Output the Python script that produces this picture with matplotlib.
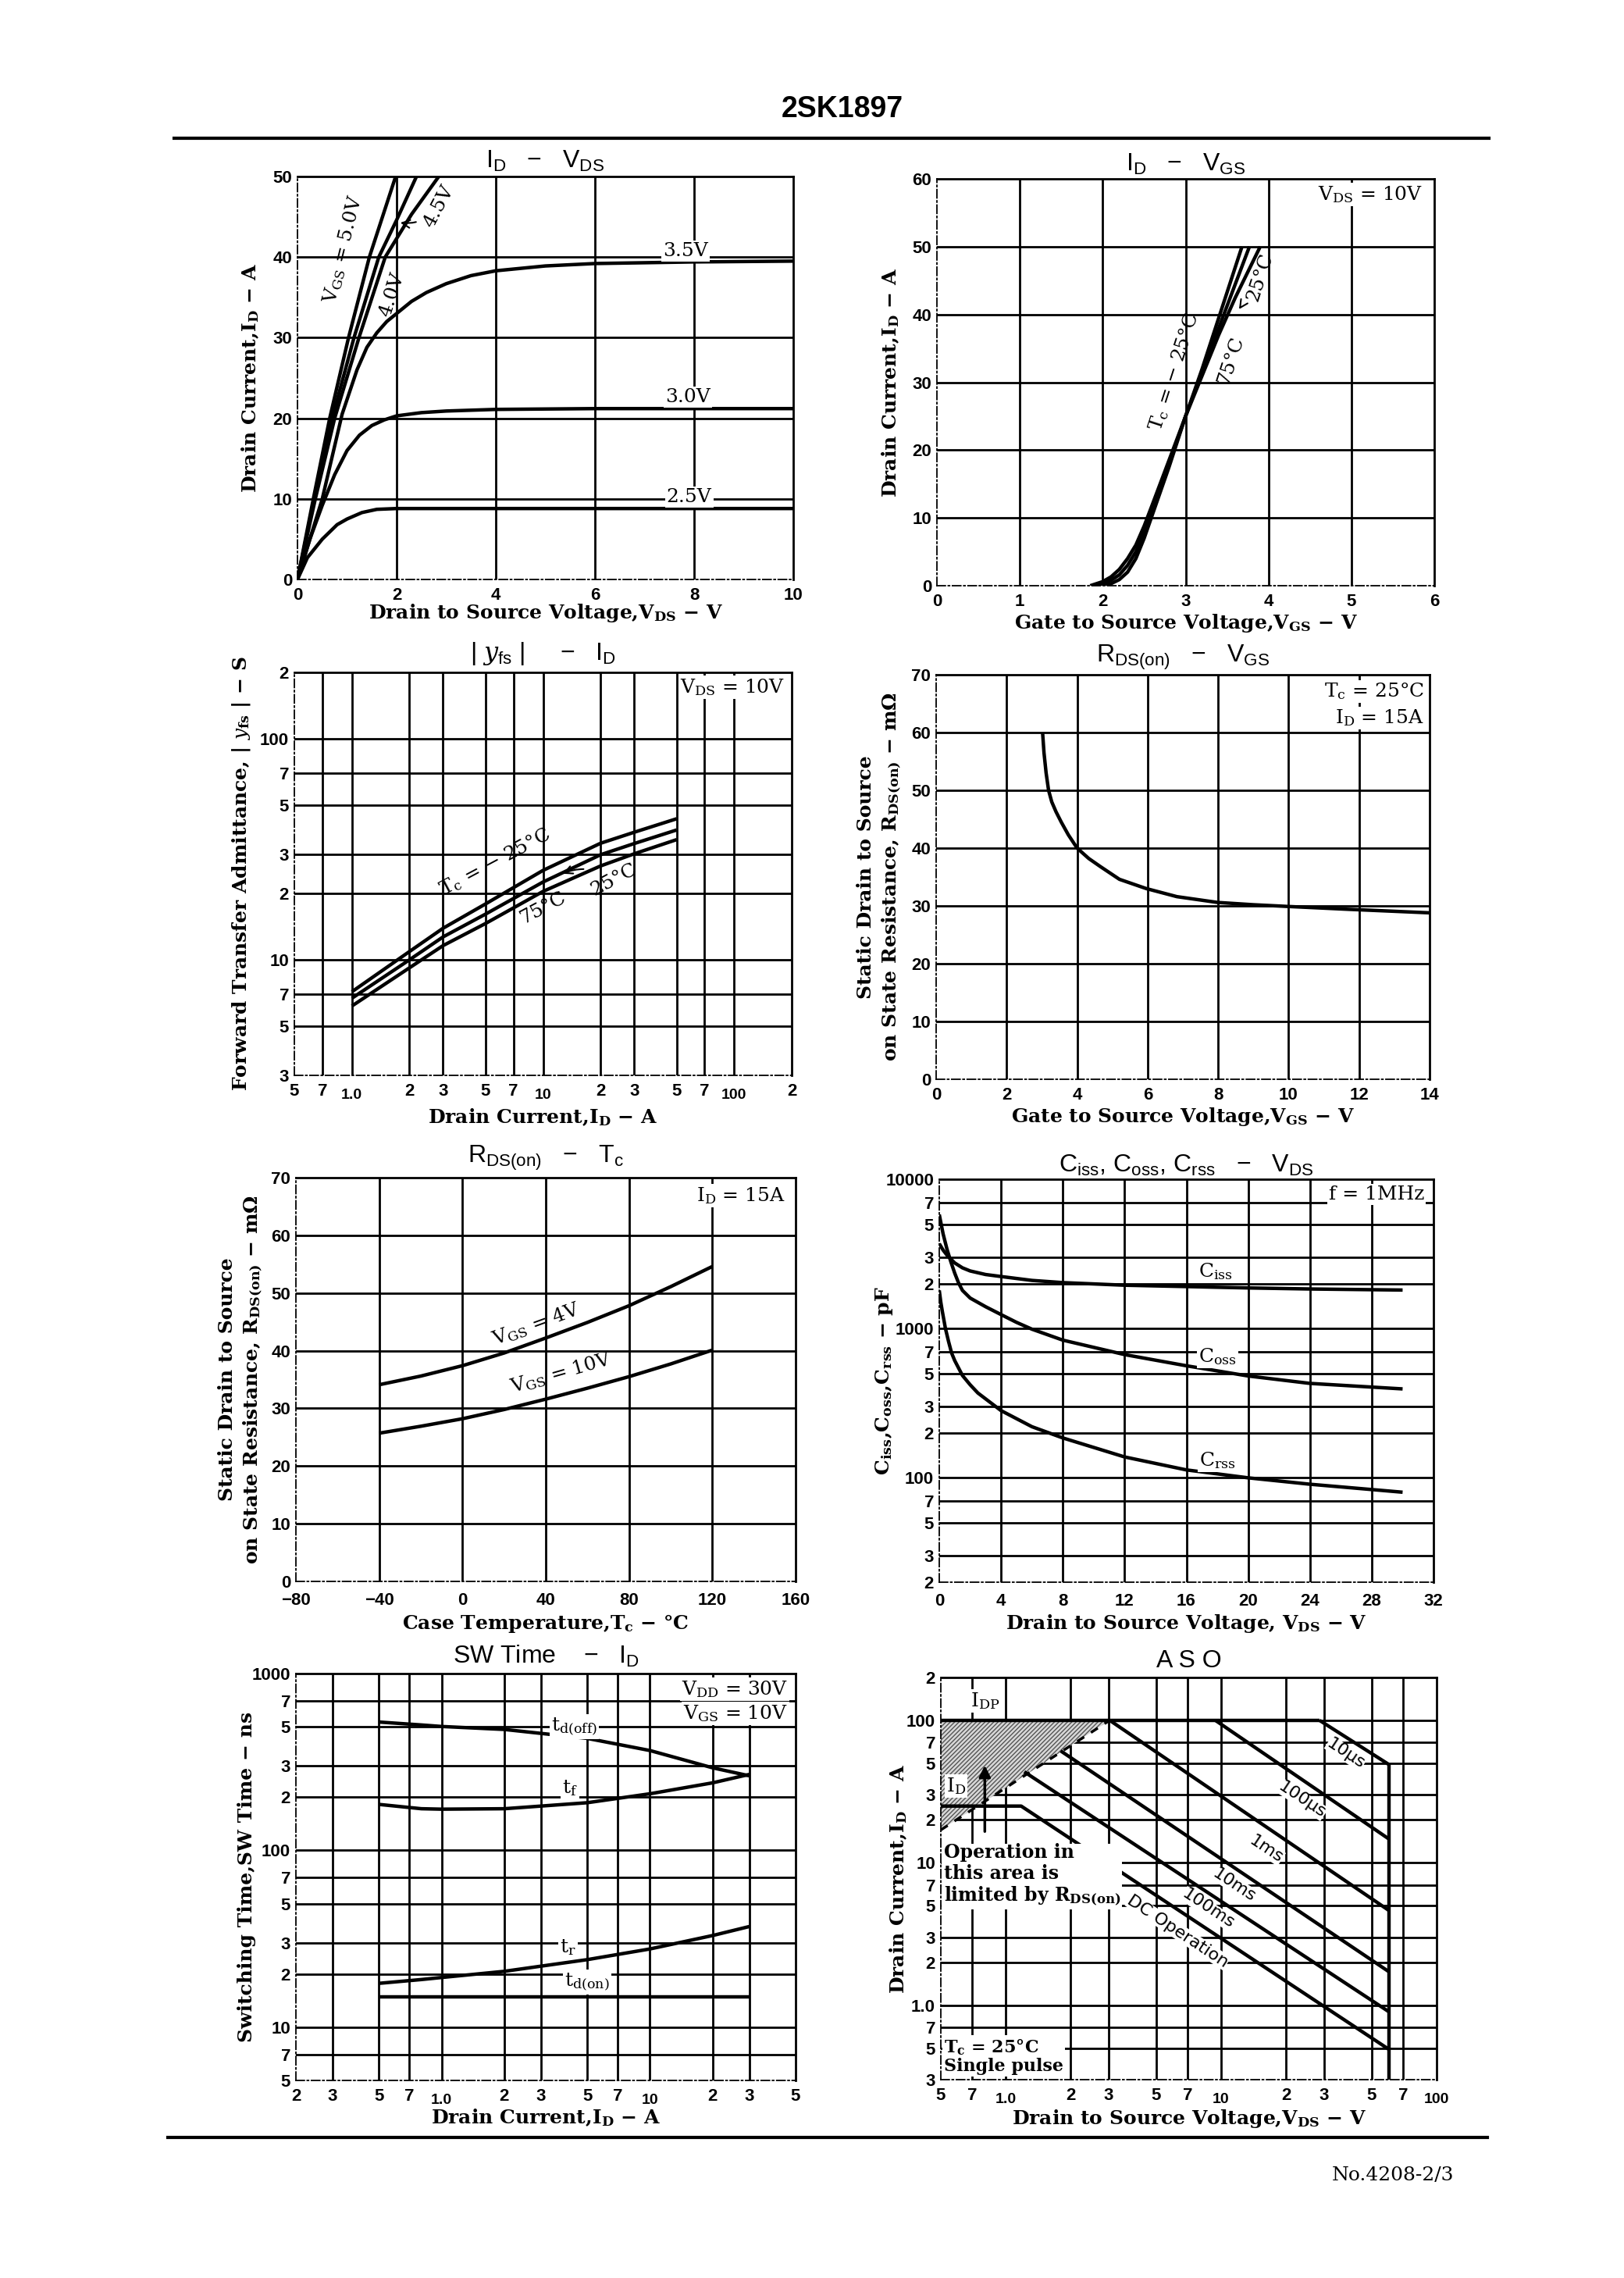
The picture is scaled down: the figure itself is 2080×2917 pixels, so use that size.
import matplotlib
matplotlib.use('Agg')
import matplotlib.pyplot as plt
from matplotlib.lines import Line2D

W, H = 2080, 2917
SERIF = ['DejaVu Serif']
SANS = ['Liberation Sans', 'DejaVu Sans']

plt.rcParams['font.family'] = SERIF
plt.rcParams['mathtext.fontset'] = 'custom'
plt.rcParams['mathtext.it'] = 'DejaVu Serif:italic'
plt.rcParams['mathtext.default'] = 'regular'

# ---------------- data ----------------
# ID - VDS
vds_x_25 = [0, 0.2, 0.5, 0.8, 1.0, 1.3, 1.6, 2.0, 3.0, 10]
vds_i_25 = [0, 2.7, 5.0, 6.8, 7.5, 8.3, 8.7, 8.8, 8.8, 8.8]
vds_x_30 = [0, 0.25, 0.5, 0.75, 1.0, 1.25, 1.5, 1.75, 2.0, 2.5, 3, 4, 6, 10]
vds_i_30 = [0, 5, 9.2, 13, 16, 17.9, 19.1, 19.8, 20.3, 20.7, 20.9, 21.1, 21.2, 21.2]
vds_x_35 = [0, 0.5, 0.9, 1.2, 1.4, 1.6, 1.8, 2.0, 2.3, 2.6, 3.0, 3.5, 4, 5, 6, 8, 10]
vds_i_35 = [0, 10, 20.5, 26, 28.8, 30.6, 32, 33, 34.5, 35.6, 36.7, 37.7, 38.3, 38.9, 39.2, 39.4, 39.5]
vds_x_40 = [0, 0.36, 0.75, 1.24, 1.77, 2.3, 2.85]
vds_i_40 = [0, 10, 20, 30, 40, 45.3, 50]
vds_x_45 = [0, 0.34, 0.7, 1.14, 1.64, 2.0, 2.4]
vds_i_45 = [0, 10, 20, 30, 40, 44.6, 50]
vds_x_50 = [0, 0.32, 0.65, 1.03, 1.45, 1.98]
vds_i_50 = [0, 10, 20, 30, 40, 50]

# ID - VGS
vgs_x_m25 = [1.95, 2.1, 2.2, 2.3, 2.4, 2.5, 2.6, 2.8, 3.0, 3.2, 3.4, 3.6, 3.68]
vgs_i_m25 = [0, 0.3, 0.9, 2.0, 4.0, 7.0, 10.5, 17.5, 25, 32, 39.5, 47, 50]
vgs_x_25 = [1.9, 2.0, 2.1, 2.2, 2.3, 2.4, 2.5, 2.6, 2.8, 3.0, 3.2, 3.4, 3.6, 3.77]
vgs_i_25 = [0, 0.3, 0.8, 1.6, 3.0, 5.0, 7.8, 11, 18, 25, 31.5, 38, 44.5, 50]
vgs_x_75 = [1.85, 2.0, 2.1, 2.2, 2.3, 2.4, 2.5, 2.6, 2.8, 3.0, 3.2, 3.4, 3.6, 3.9]
vgs_i_75 = [0, 0.6, 1.3, 2.4, 4.0, 6.0, 8.8, 12, 18.5, 25, 31, 37, 42.5, 50]

# |yfs| - ID
yfs_id = [1, 2, 3, 5, 10, 20, 30, 50]
yfs_m25 = [7.17, 10.9, 13.9, 17.9, 25.4, 33.7, 37.8, 43.5]
yfs_25 = [6.7, 10.0, 12.7, 16.1, 22.5, 29.9, 33.6, 38.7]
yfs_75 = [6.18, 9.2, 11.6, 14.6, 20.4, 26.6, 30.2, 35.0]

# RDS(on) - VGS
rg_vgs = [3.02, 3.06, 3.12, 3.19, 3.28, 3.4, 3.55, 3.75, 4.0, 4.33, 4.66, 5.2, 5.96, 6.83, 7.98, 9.0, 9.99, 11.73, 14.0]
rg_r = [60, 56.5, 53, 50, 48, 46.3, 44.5, 42.3, 40, 38.2, 36.8, 34.6, 33.0, 31.6, 30.6, 30.2, 29.9, 29.4, 28.8]

# RDS(on) - Tc
rt_tc = [-40, -20, 0, 20, 40, 60, 80, 100, 120]
rt_4v = [34.1, 35.6, 37.4, 39.6, 42.2, 44.9, 47.8, 51.1, 54.6]
rt_10v = [25.7, 26.9, 28.2, 29.8, 31.6, 33.5, 35.5, 37.7, 40.1]

# Ciss, Coss, Crss - VDS
ciss_v = [0, 0.25, 0.5, 1, 1.5, 2, 3, 4, 6, 8, 12, 16, 20, 24, 30]
ciss_c = [3700, 3350, 3100, 2750, 2550, 2430, 2300, 2230, 2100, 2030, 1950, 1910, 1870, 1840, 1810]
coss_v = [0, 0.25, 0.5, 0.75, 1.0, 1.25, 1.5, 2, 3, 4, 5, 6, 8, 12, 16, 20, 24, 30]
coss_c = [5800, 4300, 3400, 2800, 2350, 2020, 1800, 1600, 1400, 1240, 1100, 990, 836, 669, 563, 481, 429, 394]
crss_v = [0, 0.1, 0.2, 0.4, 0.6, 0.8, 1.0, 1.5, 2.0, 2.5, 4, 6, 8, 12, 16, 20, 24, 30]
crss_c = [1800, 1500, 1300, 1000, 820, 685, 610, 485, 420, 370, 282, 220, 185, 138, 113, 100, 90.6, 80.1]

# SW time - ID
sw_id = [0.5, 0.8, 1.0, 2.0, 5.0, 10, 20, 30]
sw_tdoff = [532, 512, 502, 483, 430, 367, 293, 264]
sw_tf = [182, 172, 171, 172, 186, 209, 241, 269]
sw_tr = [17.7, 18.6, 19.1, 20.7, 24.1, 27.7, 33.0, 37.1]
sw_tdon_id = [0.5, 30]
sw_tdon = [14.8, 14.8]

# ASO
aso_idp_v, aso_idp_i = [0.5, 28.6], [100, 100]
aso_10us_v, aso_10us_i = [28.6, 60], [100, 49]
aso_100us_v, aso_100us_i = [9.4, 60], [100, 14.7]
aso_1ms_v, aso_1ms_i = [3.04, 60], [100, 4.63]
aso_10ms_v, aso_10ms_i = [1.8, 60], [61, 1.72]
aso_100ms_v, aso_100ms_i = [1.22, 60], [43.5, 0.9]
aso_dc_v, aso_dc_i = [0.5, 1.18, 60], [25, 25, 0.49]
aso_vdss_v, aso_vdss_i = [60, 60], [49, 0.3]
aso_rds_v, aso_rds_i = [0.5, 3.04], [17, 100]

# tick values and labels
lin_x1 = [0, 2, 4, 6, 8, 10]
lin_y1 = [0, 10, 20, 30, 40, 50]
lin_x2 = [0, 1, 2, 3, 4, 5, 6]
lin_y2 = [0, 10, 20, 30, 40, 50, 60]
lin_x4 = [0, 2, 4, 6, 8, 10, 12, 14]
lin_y4 = [0, 10, 20, 30, 40, 50, 60, 70]
lin_x5 = [-80, -40, 0, 40, 80, 120, 160]
lin_x5_lab = ['−80', '−40', '0', '40', '80', '120', '160']
lin_x6 = [0, 4, 8, 12, 16, 20, 24, 28, 32]
log_x3 = [0.5, 0.7, 1, 2, 3, 5, 7, 10, 20, 30, 50, 70, 100, 200]
log_x3_lab = ['5', '7', '1.0', '2', '3', '5', '7', '10', '2', '3', '5', '7', '100', '2']
log_y3 = [3, 5, 7, 10, 20, 30, 50, 70, 100, 200]
log_y3_lab = ['3', '5', '7', '10', '2', '3', '5', '7', '100', '2']
log_y6 = [20, 30, 50, 70, 100, 200, 300, 500, 700, 1000, 2000, 3000, 5000, 7000, 10000]
log_y6_lab = ['2', '3', '5', '7', '100', '2', '3', '5', '7', '1000', '2', '3', '5', '7', '10000']
log_x7 = [0.2, 0.3, 0.5, 0.7, 1, 2, 3, 5, 7, 10, 20, 30, 50]
log_x7_lab = ['2', '3', '5', '7', '1.0', '2', '3', '5', '7', '10', '2', '3', '5']
log_y7 = [5, 7, 10, 20, 30, 50, 70, 100, 200, 300, 500, 700, 1000]
log_y7_lab = ['5', '7', '10', '2', '3', '5', '7', '100', '2', '3', '5', '7', '1000']
log_x8 = [0.5, 0.7, 1, 2, 3, 5, 7, 10, 20, 30, 50, 70, 100]
log_x8_lab = ['5', '7', '1.0', '2', '3', '5', '7', '10', '2', '3', '5', '7', '100']
log_y8 = [0.3, 0.5, 0.7, 1, 2, 3, 5, 7, 10, 20, 30, 50, 70, 100, 200]
log_y8_lab = ['3', '5', '7', '1.0', '2', '3', '5', '7', '10', '2', '3', '5', '7', '100', '2']

# ---------------- drawing ----------------
TICK = dict(family=SANS, weight='bold', fontsize=16)
LAB = dict(family=SERIF, weight='bold', fontsize=18)
NOTE = dict(family=SERIF, fontsize=18)
TTL = dict(family=SANS, fontsize=23)
GRID_LW = 2.0
CURVE_LW = 3.2
WBOX = dict(fc='white', ec='none', pad=1.5)

fig = plt.figure(figsize=(W / 100, H / 100), dpi=100)
fig.patch.set_facecolor('white')


def panel(box, title, title_y, xlabel, ylabel, ylab_x, xlab_y):
    l, t, r, b = box
    ax = fig.add_axes([l / W, 1 - b / H, (r - l) / W, (b - t) / H])
    for side in ('top', 'right'):
        ax.spines[side].set_linewidth(2.0)
    for side in ('left', 'bottom'):
        ax.spines[side].set_linewidth(1.3)
        ax.spines[side].set_linestyle((0, (6, 2, 1, 2)))
    ax.tick_params(which='both', length=0, pad=5)
    ax.tick_params(axis='x', which='major', pad=7)
    ax.tick_params(axis='x', which='minor', pad=12)
    ax.set_xlabel(xlabel, va='center', **LAB)
    ax.set_ylabel(ylabel, va='center', ha='center', linespacing=1.35, **LAB)
    ax.yaxis.set_label_coords((ylab_x - l) / (r - l), 0.5)
    ax.xaxis.set_label_coords(0.5, (b - xlab_y) / (b - t))
    fig.text((l + r) / 2 / W, 1 - title_y / H, title, ha='center', va='center', **TTL)
    return ax


def ticks(ax, axis, vals, labels=None, low=()):
    if labels is None:
        labels = [str(v) for v in vals]
    maj = [(v, s) for v, s in zip(vals, labels) if v not in low]
    mnr = [(v, s) for v, s in zip(vals, labels) if v in low]
    setter = ax.set_xticks if axis == 'x' else ax.set_yticks
    setter([v for v, _ in maj], [s for _, s in maj], **TICK)
    if mnr:
        small = dict(TICK, fontsize=14)
        setter([v for v, _ in mnr], [s for _, s in mnr], minor=True, **small)
    else:
        setter([], minor=True)
    if axis == 'x':
        ax.set_xlim(vals[0], vals[-1])
        for v in vals[1:-1]:
            ax.axvline(v, color='black', lw=GRID_LW, zorder=1)
    else:
        ax.set_ylim(vals[0], vals[-1])
        for v in vals[1:-1]:
            ax.axhline(v, color='black', lw=GRID_LW, zorder=1)


def curve(ax, x, y, **kw):
    ax.plot(x, y, color='black', lw=CURVE_LW, solid_capstyle='butt', zorder=3, **kw)


# header / footer
fig.text(1079 / W, 1 - 140 / H, '2SK1897', ha='center', va='center',
         family=['Liberation Sans Narrow', 'Liberation Sans'], weight='bold', fontsize=27)
fig.add_artist(Line2D([223 / W, 1907 / W], [1 - 177 / H] * 2, color='black', lw=3))
fig.add_artist(Line2D([215 / W, 1905 / W], [1 - 2737 / H] * 2, color='black', lw=3))
fig.text(1862 / W, 1 - 2785 / H, 'No.4208-2/3', ha='right', va='center', family=SERIF, fontsize=18)

# 1. ID - VDS
ax = panel((381, 226, 1016, 742), 'I$_D$   −   V$_{DS}$', 206,
           'Drain to Source Voltage,V$_{DS}$ − V', 'Drain Current,I$_D$ − A', 321, 785)
ticks(ax, 'x', lin_x1)
ticks(ax, 'y', lin_y1)
for xs, ys in [(vds_x_25, vds_i_25), (vds_x_30, vds_i_30), (vds_x_35, vds_i_35),
               (vds_x_40, vds_i_40), (vds_x_45, vds_i_45), (vds_x_50, vds_i_50)]:
    curve(ax, xs, ys)
ax.text(7.83, 40.7, '3.5V', ha='center', va='center', bbox=WBOX, zorder=4, **NOTE)
ax.text(7.87, 22.6, '3.0V', ha='center', va='center', bbox=WBOX, zorder=4, **NOTE)
ax.text(7.9, 10.2, '2.5V', ha='center', va='center', bbox=WBOX, zorder=4, **NOTE)
ax.text(0.93, 41.0, 'V$_{GS}$ = 5.0V', ha='center', va='center', rotation=76, zorder=4, **NOTE)
ax.text(1.9, 35.3, '4.0V', ha='center', va='center', rotation=72, zorder=4, **NOTE)
ax.annotate('4.5V', xy=(2.03, 44.3), xytext=(2.85, 46.3), ha='center', va='center', rotation=62,
            arrowprops=dict(arrowstyle='->', lw=1.5, color='black',
                            connectionstyle='arc3,rad=-0.3'), zorder=4, **NOTE)

# 2. ID - VGS
ax = panel((1200, 229, 1837, 750), 'I$_D$   −   V$_{GS}$', 210,
           'Gate to Source Voltage,V$_{GS}$ − V', 'Drain Current,I$_D$ − A', 1141, 798)
ticks(ax, 'x', lin_x2)
ticks(ax, 'y', lin_y2)
curve(ax, vgs_x_m25, vgs_i_m25)
curve(ax, vgs_x_25, vgs_i_25)
curve(ax, vgs_x_75, vgs_i_75)
ax.text(5.23, 57.7, 'V$_{DS}$ = 10V', ha='center', va='center', bbox=WBOX, zorder=4, **NOTE)
ax.text(2.86, 31.5, 'T$_c$ = − 25°C', ha='center', va='center', rotation=72, zorder=4, **NOTE)
ax.text(3.55, 33.3, '75°C', ha='center', va='center', rotation=72, zorder=4, **NOTE)
ax.annotate('25°C', xy=(3.63, 40.5), xytext=(3.9, 45.5), ha='center', va='center', rotation=72,
            arrowprops=dict(arrowstyle='->', lw=1.5, color='black'), zorder=4, **NOTE)

# 3. |yfs| - ID
ax = panel((377, 861, 1014, 1377), '| $\\mathit{y}_{fs}$ |     −   I$_D$', 837,
           'Drain Current,I$_D$ − A', 'Forward Transfer Admittance, | $\\mathit{y}_{fs}$ | − S', 309, 1431)
ax.set_xscale('log')
ax.set_yscale('log')
ticks(ax, 'x', log_x3, log_x3_lab, low=(1, 10, 100))
ticks(ax, 'y', log_y3, log_y3_lab)
curve(ax, yfs_id, yfs_m25)
curve(ax, yfs_id, yfs_25)
curve(ax, yfs_id, yfs_75)
ax.text(98, 171, 'V$_{DS}$ = 10V', ha='center', va='center', bbox=WBOX, zorder=4, **NOTE)
ax.text(5.6, 27.8, 'T$_c$ = − 25°C', ha='center', va='center', rotation=28, zorder=4, **NOTE)
ax.text(10.0, 17.2, '75°C', ha='center', va='center', rotation=28, zorder=4, **NOTE)
ax.annotate('25°C', xy=(12.4, 24.3), xytext=(23.5, 23.0), ha='center', va='center', rotation=28,
            arrowprops=dict(arrowstyle='->', lw=1.5, color='black',
                            connectionstyle='arc3,rad=0.3'), zorder=4, **NOTE)

# 4. RDS(on) - VGS
ax = panel((1199, 864, 1831, 1382), 'R$_{DS(on)}$   −   V$_{GS}$', 842,
           'Gate to Source Voltage,V$_{GS}$ − V',
           'Static Drain to Source\non State Resistance, R$_{DS(on)}$ − mΩ', 1127, 1430)
ticks(ax, 'x', lin_x4)
ticks(ax, 'y', lin_y4)
curve(ax, rg_vgs, rg_r)
ax.text(13.85, 67.1, 'T$_c$ = 25°C', ha='right', va='center', bbox=WBOX, zorder=4, **NOTE)
ax.text(13.85, 62.5, 'I$_D$ = 15A', ha='right', va='center', bbox=WBOX, zorder=4, **NOTE)

# 5. RDS(on) - Tc
ax = panel((379, 1508, 1019, 2025), 'R$_{DS(on)}$   −   T$_c$', 1483,
           'Case Temperature,T$_c$ − °C',
           'Static Drain to Source\non State Resistance, R$_{DS(on)}$ − mΩ', 309, 2079)
ax.tick_params(axis='x', which='major', pad=10)
ticks(ax, 'x', lin_x5, lin_x5_lab)
ticks(ax, 'y', lin_y4)
curve(ax, rt_tc, rt_4v)
curve(ax, rt_tc, rt_10v)
ax.text(155, 66.9, 'I$_D$ = 15A', ha='right', va='center', bbox=WBOX, zorder=4, **NOTE)
ax.text(35.5, 44.6, 'V$_{GS}$ = 4V', ha='center', va='center', rotation=20, zorder=4, **NOTE)
ax.text(47.3, 36.2, 'V$_{GS}$ = 10V', ha='center', va='center', rotation=16, zorder=4, **NOTE)

# 6. Ciss, Coss, Crss - VDS
ax = panel((1203, 1510, 1836, 2026), 'C$_{iss}$, C$_{oss}$, C$_{rss}$   −   V$_{DS}$', 1492,
           'Drain to Source Voltage, V$_{DS}$ − V', 'C$_{iss}$,C$_{oss}$,C$_{rss}$ − pF', 1132, 2079)
ax.set_yscale('log')
ax.tick_params(axis='x', which='major', pad=10)
ticks(ax, 'x', lin_x6)
ticks(ax, 'y', log_y6, log_y6_lab)
curve(ax, ciss_v, ciss_c)
curve(ax, coss_v, coss_c)
curve(ax, crss_v, crss_c)
ax.text(31.4, 7890, 'f = 1MHz', ha='right', va='center', bbox=WBOX, zorder=4, **NOTE)
ax.text(17.9, 2415, 'C$_{iss}$', ha='center', va='center', bbox=WBOX, zorder=4, **NOTE)
ax.text(18.0, 653, 'C$_{oss}$', ha='center', va='center', bbox=WBOX, zorder=4, **NOTE)
ax.text(18.0, 131, 'C$_{rss}$', ha='center', va='center', bbox=WBOX, zorder=4, **NOTE)

# 7. SW Time - ID
ax = panel((379, 2143, 1019, 2664), 'SW Time    −   I$_D$', 2121,
           'Drain Current,I$_D$ − A', 'Switching Time,SW Time − ns', 316, 2712)
ax.set_xscale('log')
ax.set_yscale('log')
ticks(ax, 'x', log_x7, log_x7_lab, low=(1, 10))
ticks(ax, 'y', log_y7, log_y7_lab)
curve(ax, sw_id, sw_tdoff)
curve(ax, sw_id, sw_tf)
curve(ax, sw_id, sw_tr)
curve(ax, sw_tdon_id, sw_tdon)
ax.text(45.8, 816, 'V$_{DD}$ = 30V', ha='right', va='center', bbox=WBOX, zorder=4, **NOTE)
ax.text(45.8, 598, 'V$_{GS}$ = 10V', ha='right', va='center', bbox=WBOX, zorder=4, **NOTE)
ax.text(4.32, 500, 't$_{d(off)}$', ha='center', va='center', bbox=WBOX, zorder=4, **NOTE)
ax.text(4.14, 226, 't$_f$', ha='center', va='center', bbox=WBOX, zorder=4, **NOTE)
ax.text(4.05, 28.2, 't$_r$', ha='center', va='center', bbox=WBOX, zorder=4, **NOTE)
ax.text(5.0, 18.0, 't$_{d(on)}$', ha='center', va='center', bbox=WBOX, zorder=4, **NOTE)

# 8. ASO
ax = panel((1205, 2148, 1840, 2663), 'A S O', 2127,
           'Drain to Source Voltage,V$_{DS}$ − V', 'Drain Current,I$_D$ − A', 1151, 2713)
ax.set_xscale('log')
ax.set_yscale('log')
ticks(ax, 'x', log_x8, log_x8_lab, low=(1, 10, 100))
ticks(ax, 'y', log_y8, log_y8_lab)
ax.fill([aso_rds_v[0], aso_rds_v[1], aso_rds_v[0]], [aso_rds_i[0], aso_rds_i[1], aso_rds_i[1]],
        facecolor='#d8d8d8', edgecolor='#555555', hatch='//////', lw=0, zorder=2)
ax.plot(aso_rds_v, aso_rds_i, color='black', lw=2.5, ls=(0, (3, 3)), zorder=3)
for xs, ys in [(aso_idp_v, aso_idp_i), (aso_10us_v, aso_10us_i), (aso_100us_v, aso_100us_i),
               (aso_1ms_v, aso_1ms_i), (aso_10ms_v, aso_10ms_i), (aso_100ms_v, aso_100ms_i),
               (aso_dc_v, aso_dc_i), (aso_vdss_v, aso_vdss_i)]:
    curve(ax, xs, ys)
ax.annotate('', xy=(0.8, 50), xytext=(0.8, 16),
            arrowprops=dict(arrowstyle='-|>', lw=2.5, color='black', mutation_scale=22), zorder=4)
ax.text(0.8, 137, 'I$_{DP}$', ha='center', va='center', bbox=WBOX, zorder=4, **NOTE)
ax.text(0.59, 34.6, 'I$_D$', ha='center', va='center', bbox=WBOX, zorder=4, **NOTE)
ax.text(0.515, 13.8, 'Operation in\nthis area is\nlimited by R$_{DS(on)}$', ha='left', va='top',
        linespacing=1.15, bbox=WBOX, zorder=4, family=SERIF, weight='bold', fontsize=17)
ax.text(0.515, 0.6, 'T$_c$ = 25°C\nSingle pulse', ha='left', va='top', linespacing=1.1,
        bbox=WBOX, zorder=4, family=SERIF, weight='bold', fontsize=16)
ROT = dict(ha='center', va='center', rotation=-33.5, zorder=4, family=['DejaVu Sans'], fontsize=16,
           bbox=dict(fc='white', ec='none', pad=0.0))
ax.text(37.9, 58.5, '10μs', **ROT)
ax.text(23.8, 27.6, '100μs', **ROT)
ax.text(16.2, 12.4, '1ms', **ROT)
ax.text(11.5, 7.0, '10ms', **ROT)
ax.text(8.68, 4.75, '100ms', **ROT)
ax.text(6.3, 3.3, 'DC Operation', **ROT)

fig.savefig('out.png', dpi=100, facecolor='white')
